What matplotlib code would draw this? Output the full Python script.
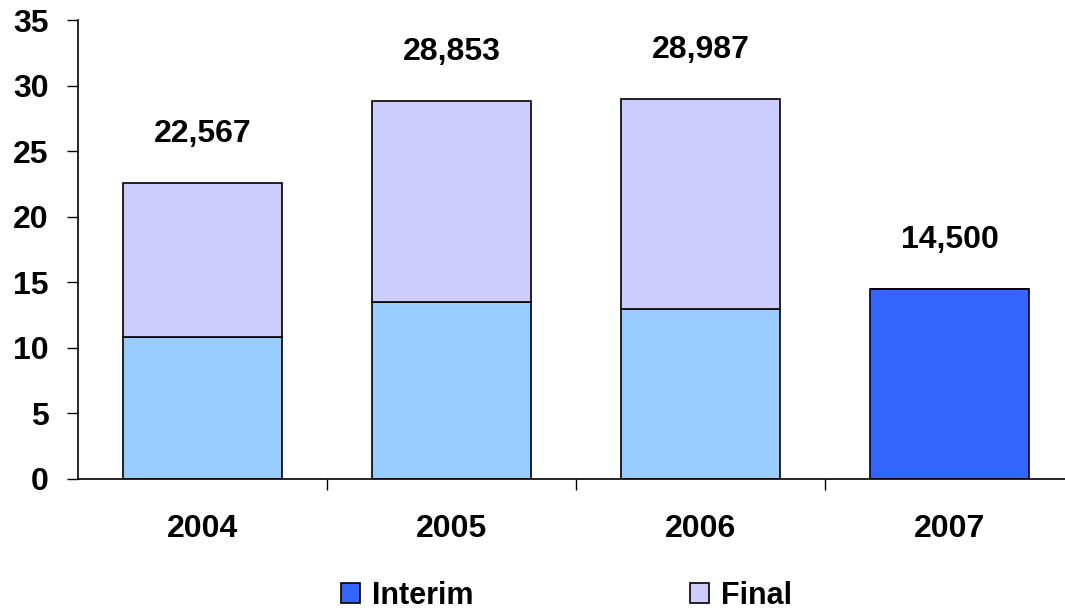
import matplotlib.pyplot as plt
import numpy as np
from matplotlib.patches import Patch

plt.rcParams['font.family'] = ['Liberation Sans', 'DejaVu Sans']
plt.rcParams['font.weight'] = 'bold'

anos = ['2004', '2005', '2006', '2007']
interim = [10.8, 13.5, 13.0, 14.5]       # parte de baixo das barras
totais = [22.567, 28.853, 28.987, 14.5]  # rótulo em cima de cada barra
rotulos = ['22,567', '28,853', '28,987', '14,500']
final = [t - i for t, i in zip(totais, interim)]

cor_interim_ant = '#99CCFF'
cor_interim = '#3366FF'
cor_final = '#CCCCFF'

fig = plt.figure(figsize=(10.65, 6.14), dpi=100)
ax = fig.add_axes([0.0732, 0.2199, 0.9353, 0.7475])

x = np.arange(len(anos))
cores_baixo = [cor_interim_ant] * 3 + [cor_interim]
ax.bar(x, interim, width=0.635, color=cores_baixo, edgecolor='black', linewidth=1.2, zorder=2)
ax.bar(x, final, width=0.635, bottom=interim, color=cor_final, edgecolor='black', linewidth=1.2, zorder=2)

for xi, t, r in zip(x, totais, rotulos):
    ax.annotate(r, (xi, t), xytext=(0, 35), textcoords='offset points',
                ha='center', va='center', fontsize=23, fontweight='bold')

ax.set_xlim(-0.5, len(anos) - 0.5)
ax.set_ylim(0, 35)
ax.set_yticks(np.arange(0, 36, 5))
ax.tick_params(axis='y', labelsize=23, length=8, width=1, pad=13)
ax.set_xticks(x)
ax.set_xticklabels(anos)
ax.set_xticks(np.arange(0.5, len(anos) - 0.5, 1), minor=True)
ax.tick_params(axis='x', which='major', labelsize=23, length=0, pad=25)
ax.tick_params(axis='x', which='minor', length=8, width=1)

for s in ['top', 'right']:
    ax.spines[s].set_visible(False)
for s in ['left', 'bottom']:
    ax.spines[s].set_linewidth(1.2)

handles = [Patch(facecolor=cor_interim, edgecolor='black', linewidth=1.2, label='Interim'),
           Patch(facecolor=cor_final, edgecolor='black', linewidth=1.2, label='Final')]
fig.legend(handles=handles, loc='center', bbox_to_anchor=(0.532, 0.03), ncol=2,
           frameon=False, fontsize=22, handlelength=0.6, handleheight=0.6,
           handletextpad=0.4, columnspacing=7.1, borderpad=0)

fig.savefig('out.png', dpi=100)
